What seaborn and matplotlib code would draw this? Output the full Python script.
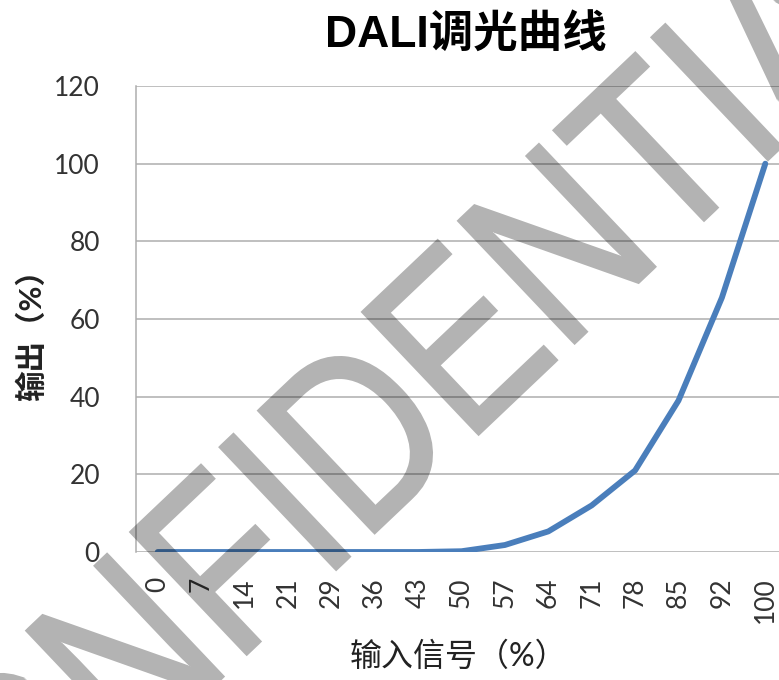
import matplotlib
matplotlib.use("Agg")
import matplotlib.pyplot as plt
import seaborn as sns
import numpy as np
import pandas as pd
from matplotlib.textpath import TextPath
from matplotlib.patches import PathPatch
from matplotlib.font_manager import FontProperties
from matplotlib.transforms import Affine2D, IdentityTransform

# ===================== data =====================
signal_labels = ["0", "7", "14", "21", "29", "36", "43", "50",
                 "57", "64", "71", "78", "85", "92", "100"]
output_pct = [0, 0, 0, 0, 0, 0, 0, 0.2, 1.8, 5.3, 12, 21, 39, 65.5, 100]
y_ticks = [0, 20, 40, 60, 80, 100, 120]

title_text = "DALI调光曲线"
x_label = "输入信号（%）"
y_label = "输出（%）"
watermark = "CONFIDENTIAL"

df = pd.DataFrame({"signal": signal_labels, "output": output_pct})

# ===================== style =====================
sns.set_style("white")
plt.rcParams["font.family"] = ["Lato", "Noto Sans CJK SC", "DejaVu Sans"]

LINE_COLOR = "#4A7EBB"
GRID_COLOR = "#ADADAD"


def fatten(img, dpi, r=2, alpha=0.3):
    # widen the watermark strokes a bit and make them see-through grey
    a = img[:, :, 3]
    p = np.pad(a, r)
    out = a.copy()
    h, w = a.shape
    for dy in range(-r, r + 1):
        for dx in range(-r, r + 1):
            if dx * dx + dy * dy <= r * r:
                out = np.maximum(out, p[r + dy:r + dy + h, r + dx:r + dx + w])
    res = np.zeros_like(img)
    res[:, :, 3] = out * alpha
    return res, 0, 0


fig = plt.figure(figsize=(7.79, 6.80), dpi=100)
ax = fig.add_axes([136 / 779, 128 / 680, 651 / 779, 466 / 680])

sns.lineplot(data=df, x="signal", y="output", sort=False,
             color=LINE_COLOR, ax=ax, zorder=3)
for ln in ax.lines:
    ln.set_linewidth(4.2)
    ln.set_solid_capstyle("round")
    ln.set_solid_joinstyle("round")

ax.set_xlim(-0.5, len(signal_labels) - 0.5)
ax.set_ylim(0, 120)
ax.set_yticks(y_ticks)
ax.yaxis.grid(True, color=GRID_COLOR, linewidth=1.1)
ax.xaxis.grid(False)

for side in ["top", "right", "bottom"]:
    ax.spines[side].set_visible(False)
ax.spines["left"].set_color(GRID_COLOR)
ax.spines["left"].set_linewidth(1.1)

ax.tick_params(axis="y", length=8, width=1.1, color=GRID_COLOR, pad=18,
               labelsize=19, labelcolor="#333333")
ax.tick_params(axis="x", length=0, pad=18, labelsize=19,
               labelcolor="#333333", labelrotation=90)

ax.set_xlabel(x_label, fontsize=23, color="#222222")
ax.set_ylabel(y_label, fontsize=22, fontweight="bold", color="#222222")
ax.xaxis.set_label_coords((458 - 136) / 651, -(641 - 552) / 466)
ax.yaxis.set_label_coords(-(136 - 46) / 651, (552 - 328) / 466)

fig.text(466 / 779, 1 - 36 / 680, title_text, ha="center", va="center",
         fontsize=32, fontweight="bold", color="black",
         family=["Liberation Sans", "Noto Sans CJK SC"])

# ---- diagonal watermark (narrow sans, pixel coords) ----
wm_path = TextPath((0, 0), watermark, size=245,
                   prop=FontProperties(family="Liberation Sans"))
wm_path = Affine2D().scale(0.81, 1).rotate_deg(43.5).translate(-85, -289).transform_path(wm_path)
wm = PathPatch(wm_path, facecolor="black", edgecolor="none",
               transform=IdentityTransform(), zorder=10)
wm.set_agg_filter(fatten)
fig.add_artist(wm)

fig.savefig("out.png", dpi=100)
